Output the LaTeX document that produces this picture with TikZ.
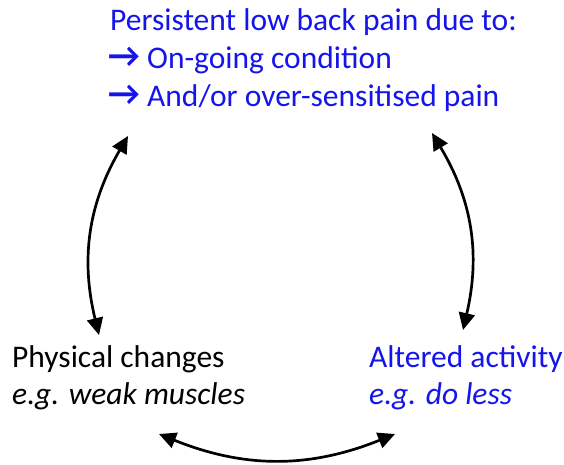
\documentclass[tikz,border=0pt]{standalone}
\usepackage{fontspec}
\setmainfont{Carlito}
\usetikzlibrary{arrows.meta}
\definecolor{txtblue}{RGB}{20,20,235}
\tikzset{
  lbl/.style={anchor=base west, inner sep=0pt, font=\fontsize{31.5}{36}\selectfont},
  arr/.style={anchor=base west, inner sep=0pt, text=txtblue, font=\fontsize{35}{40}\selectfont\bfseries},
  conn/.style={line width=2.7pt, {Triangle[length=17pt,width=16pt]}-{Triangle[length=17pt,width=16pt]}},
}
\begin{document}
\begin{tikzpicture}[x=1pt,y=-1pt]
\useasboundingbox (0,0) rectangle (564,465);
\node[lbl, txtblue] (t1) at (110,31) {Persistent low back pain due to:};
\node[arr] (a1) at (108,67.5) {→};
\node[lbl, txtblue] (t2) at (147,68.5) {On-going condition};
\node[arr] (a2) at (108,106) {→};
\node[lbl, txtblue] (t3) at (147,107) {And/or over-sensitised pain};
\node[lbl] (p1) at (12,367) {Physical changes};
\node[lbl] (p2) at (12,404) {\itshape e.g. weak muscles};
\node[lbl, txtblue] (q1) at (369,367) {Altered activity};
\node[lbl, txtblue] (q2) at (369,404) {\itshape e.g. do less};
\coordinate (L1) at (128,136);
\coordinate (L2) at (99,335);
\coordinate (R1) at (432,133);
\coordinate (R2) at (463,330);
\coordinate (B1) at (159,434);
\coordinate (B2) at (395,434);
\draw[conn] (L1) to[bend right=22] (L2);
\draw[conn] (R1) to[bend left=22] (R2);
\draw[conn] (B1) to[bend right=22] (B2);
\end{tikzpicture}
\end{document}
